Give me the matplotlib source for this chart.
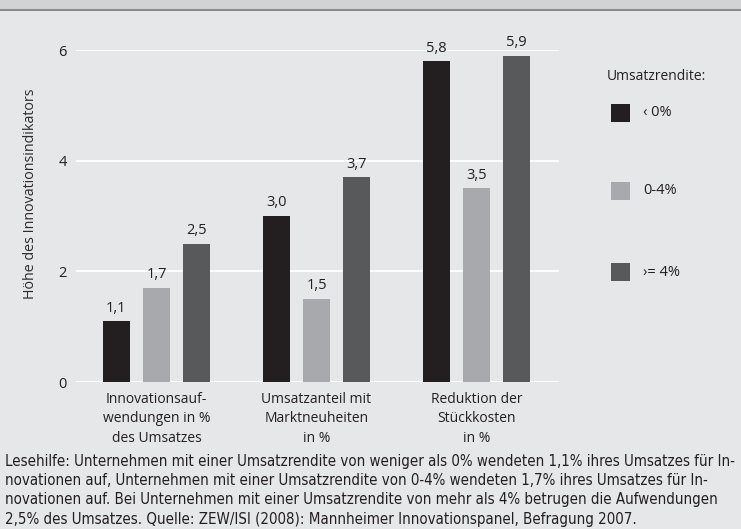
import matplotlib.pyplot as plt
from matplotlib import font_manager
from matplotlib.patches import Rectangle

# data
categories = ["Innovationsauf-\nwendungen in %\ndes Umsatzes",
              "Umsatzanteil mit\nMarktneuheiten\nin %",
              "Reduktion der\nStückkosten\nin %"]
series_names = ["‹ 0%", "0-4%", "›= 4%"]
values_neg = [1.1, 3.0, 5.8]
values_mid = [1.7, 1.5, 3.5]
values_high = [2.5, 3.7, 5.9]
yticks = [0, 2, 4, 6]
note = ("Lesehilfe: Unternehmen mit einer Umsatzrendite von weniger als 0% wendeten 1,1% ihres Umsatzes für In-\n"
        "novationen auf, Unternehmen mit einer Umsatzrendite von 0-4% wendeten 1,7% ihres Umsatzes für In-\n"
        "novationen auf. Bei Unternehmen mit einer Umsatzrendite von mehr als 4% betrugen die Aufwendungen\n"
        "2,5% des Umsatzes. Quelle: ZEW/ISI (2008): Mannheimer Innovationspanel, Befragung 2007.")

colors = ["#231f20", "#a7a9ac", "#58595b"]
bg = "#e6e7e8"
W, H = 741, 529
font = ["Open Sans", "DejaVu Sans"]

# narrow font for the note, if there is one
names = {f.name for f in font_manager.fontManager.ttflist}
if "Liberation Sans Narrow" in names:
    note_kw = dict(family=["Liberation Sans Narrow", "DejaVu Sans"])
else:
    note_kw = dict(family=["DejaVu Sans"], fontstretch="condensed")

fig = plt.figure(figsize=(W / 100, H / 100), dpi=100, facecolor=bg)

# top strip
fig.patches.append(Rectangle((0, 1 - 9 / H), 1, 9 / H, transform=fig.transFigure,
                             facecolor="#d1d3d4", edgecolor="none"))
fig.add_artist(plt.Line2D([0, 1], [1 - 10 / H, 1 - 10 / H], transform=fig.transFigure,
                          color="#8a8c8e", lw=1.5))

ax = fig.add_axes([76 / W, (H - 382) / H, 483 / W, 332 / H])
ax.set_facecolor(bg)
for s in ax.spines.values():
    s.set_visible(False)

width = 0.675
all_series = [values_neg, values_mid, values_high]
for i, (vals, c) in enumerate(zip(all_series, colors)):
    xs = [g * 4 + i for g in range(len(categories))]
    ax.bar(xs, vals, width=width, color=c, zorder=3)
    for x, v in zip(xs, vals):
        ax.annotate(f"{v:.1f}".replace(".", ","), (x, v), xytext=(0, 4),
                    textcoords="offset points", ha="center", va="bottom",
                    fontsize=10.5, family=font, color="#231f20")

ax.set_xlim(-1.01, 11.06)
ax.set_ylim(0, 6)
ax.set_yticks(yticks)
ax.set_yticklabels([str(t) for t in yticks], family=font, fontsize=10.5, color="#231f20")
ax.yaxis.grid(True, color="white", lw=1.3, zorder=0)
ax.tick_params(axis="y", length=0, pad=6.5)
ax.set_xticks([g * 4 + 1 for g in range(len(categories))])
ax.set_xticklabels(categories, family=font, fontsize=10, color="#231f20", linespacing=1.4)
ax.tick_params(axis="x", length=0, pad=7)
ax.set_ylabel("Höhe des Innovationsindikators", family=font, fontsize=10.3,
              color="#2d2a2b")
ax.yaxis.set_label_coords(-38 / 483, 0.566)

# legend
fig.text(607 / W, 1 - 76 / H, "Umsatzrendite:", family=font, fontsize=10,
         color="#231f20", va="center")
leg_y = [113, 191, 272]
for name, c, y in zip(series_names, colors, leg_y):
    fig.patches.append(Rectangle((611 / W, 1 - (y + 9) / H), 19 / W, 18 / H,
                                 transform=fig.transFigure, facecolor=c, edgecolor="none"))
    fig.text(643 / W, 1 - y / H, name, family=font, fontsize=10.5, color="#231f20", va="center")

txt = fig.text(5 / W, 1 - 454 / H, note, color="#231f20", va="top", fontsize=10,
               linespacing=1.35, **note_kw)
# fit the note to the width of the picture
fig.canvas.draw()
w = txt.get_window_extent().width
txt.set_fontsize(10 * 730 / w)

fig.savefig("out.png", dpi=100, facecolor=bg)
